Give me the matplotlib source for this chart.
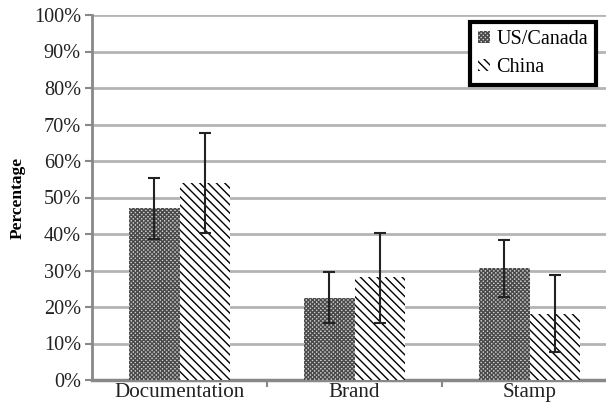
import matplotlib.pyplot as plt
import matplotlib as mpl
import numpy as np

# data (percent)
categories = ['Documentation', 'Brand', 'Stamp']
us_canada = [47.0, 22.4, 30.8]
us_canada_hi = [55.3, 29.5, 38.4]
us_canada_lo = [38.6, 15.5, 22.8]
china = [54.1, 28.1, 18.0]
china_hi = [67.6, 40.4, 28.8]
china_lo = [40.2, 15.5, 7.6]

plt.rcParams['font.family'] = ['Liberation Serif', 'DejaVu Serif']
mpl.rcParams['hatch.linewidth'] = 1.0

fig = plt.figure(figsize=(6.06, 4.08), dpi=100)
ax = fig.add_axes([92 / 606, 28 / 408, 1 - 92 / 606, 365 / 408])

x = np.arange(len(categories))
w = 0.287

us = np.array(us_canada)
cn = np.array(china)
us_err = [us - np.array(us_canada_lo), np.array(us_canada_hi) - us]
cn_err = [cn - np.array(china_lo), np.array(china_hi) - cn]

b1 = ax.bar(x - w / 2, us, w, color='#d0d0d0', hatch='xxxxxxxx', edgecolor='#4a4a4a',
            linewidth=0, label='US/Canada', zorder=3)
b2 = ax.bar(x + w / 2, cn, w, color='white', hatch='\\\\\\\\', edgecolor='black',
            linewidth=0, label='China', zorder=3)
ax.errorbar(x - w / 2, us, yerr=us_err, fmt='none', ecolor='#222222', elinewidth=1.5,
            capsize=4, capthick=1.5, zorder=4)
ax.errorbar(x + w / 2, cn, yerr=cn_err, fmt='none', ecolor='#222222', elinewidth=1.5,
            capsize=4, capthick=1.5, zorder=4)

ax.set_ylim(0, 100)
ax.set_xlim(-0.5, 2.437)
ax.set_yticks(np.arange(0, 101, 10))
ax.set_yticklabels([f'{v}%' for v in range(0, 101, 10)], fontsize=14.6, color='#222222')
ax.set_xticks(x)
ax.set_xticklabels(categories, fontsize=15.2, color='#222222')
ax.set_xticks([0.5, 1.5], minor=True)
ax.tick_params(axis='x', which='major', length=0, pad=2)
ax.tick_params(axis='x', which='minor', length=5, width=1.5, color='#888888')
ax.tick_params(axis='y', length=5, width=1.5, color='#888888', pad=3)

ax.grid(axis='y', color='#b4b4b4', linewidth=2, zorder=0)
ax.set_axisbelow(True)
for s in ['top', 'right']:
    ax.spines[s].set_visible(False)
ax.spines['left'].set_color('#888888')
ax.spines['left'].set_linewidth(2)
ax.spines['bottom'].set_color('#888888')
ax.spines['bottom'].set_linewidth(2.5)

ax.set_ylabel('Percentage', fontsize=12.5, fontweight='bold', labelpad=6)

leg = ax.legend(loc='upper right', fontsize=14.5,
                frameon=True, fancybox=False, handlelength=0.6, handleheight=0.6,
                handletextpad=0.3, borderpad=0.4, labelspacing=0.45, borderaxespad=0)
leg.set_bbox_to_anchor((504 / (606 - 92), (380 - 22) / 365), transform=ax.transAxes)
leg.get_frame().set_edgecolor('black')
leg.get_frame().set_linewidth(3)
leg.get_frame().set_alpha(1)

fig.savefig('out.png', dpi=100)
